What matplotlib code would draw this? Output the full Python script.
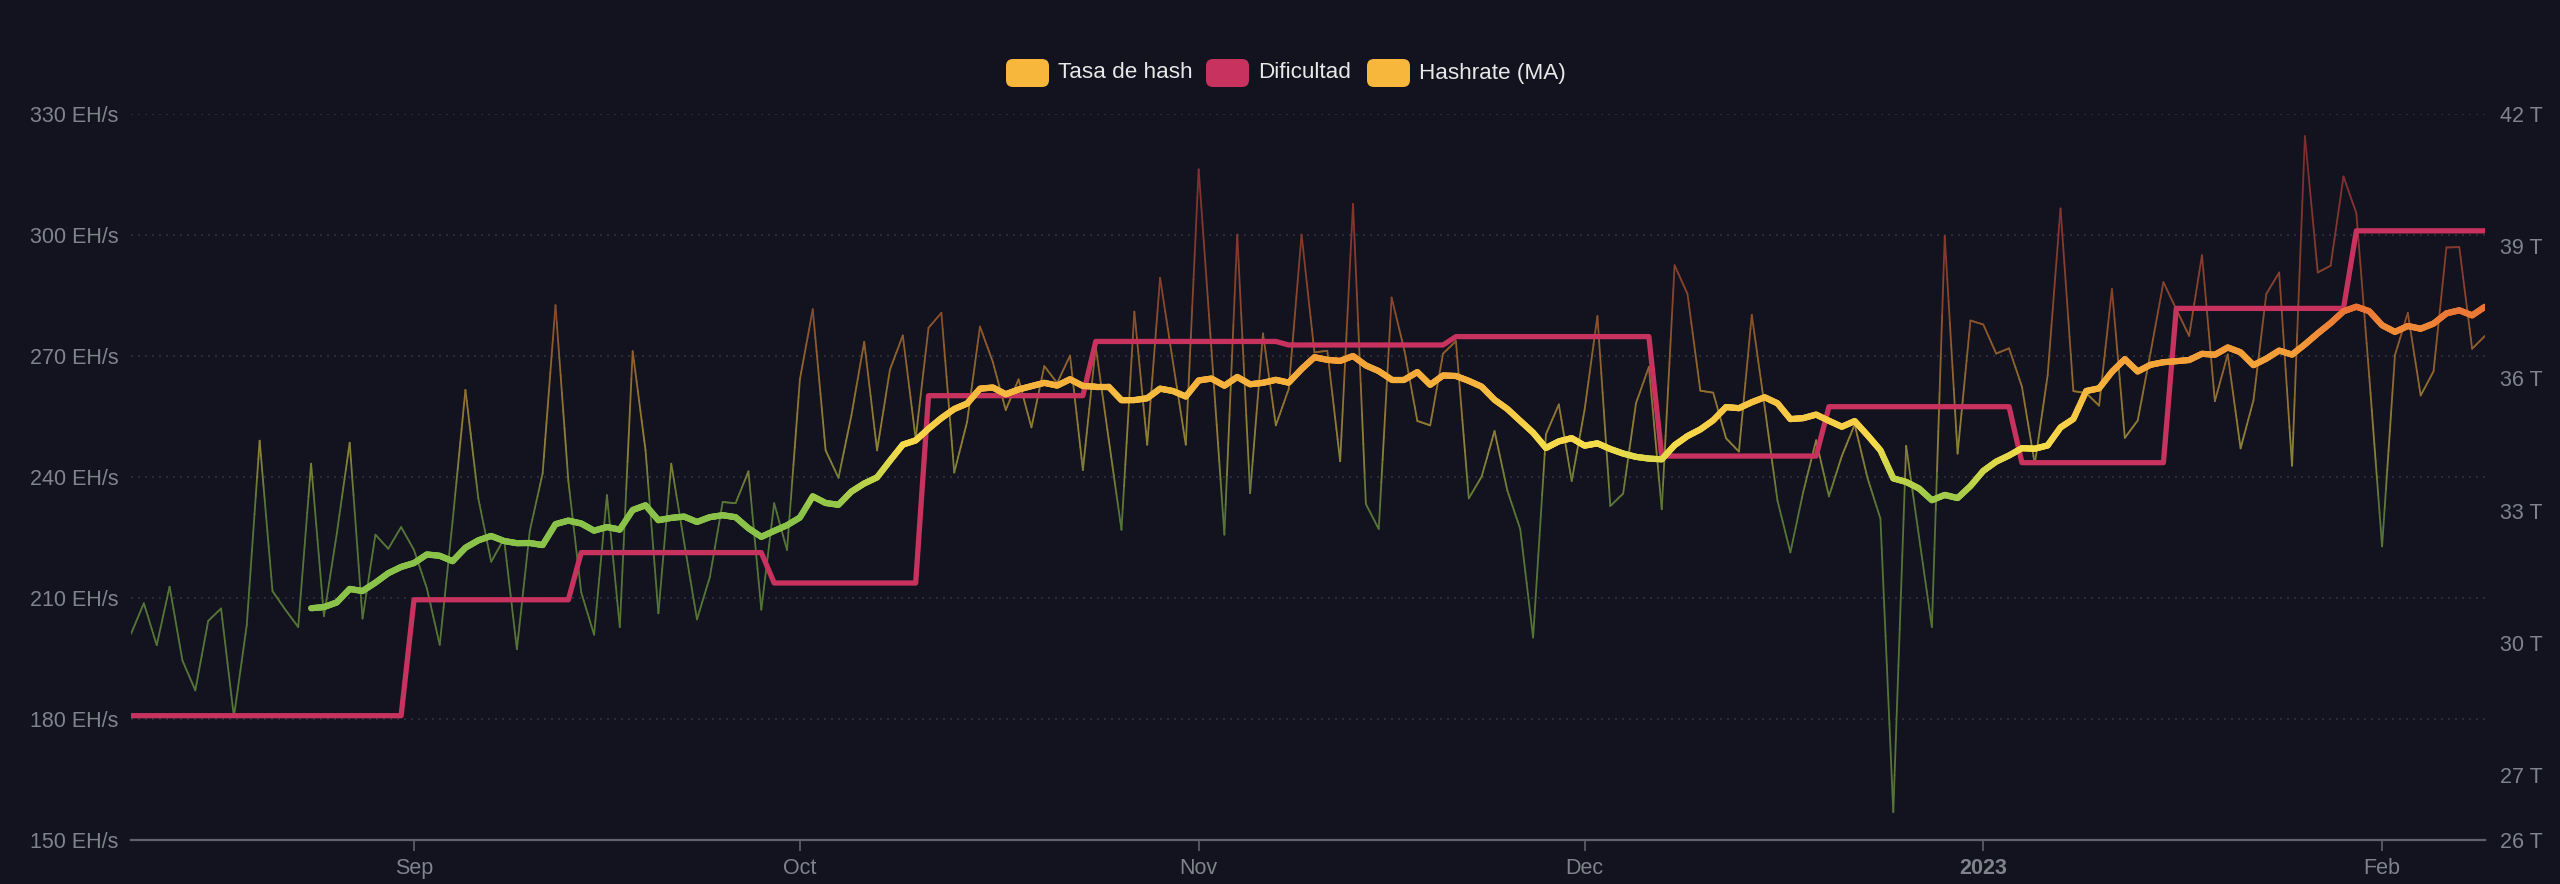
import numpy as np
import pandas as pd
import matplotlib
matplotlib.use("Agg")
import matplotlib.pyplot as plt
import matplotlib.dates as mdates
from matplotlib.collections import LineCollection
from matplotlib.colors import LinearSegmentedColormap, Normalize, to_rgb
from matplotlib.patches import FancyBboxPatch
from matplotlib.transforms import IdentityTransform

plt.rcParams['font.family'] = ['Liberation Sans', 'DejaVu Sans']

# daily hashrate (EH/s), starting 2022-08-10
start_date = '2022-08-10'
hashrate = [
    201.1, 208.7, 198.3, 212.8, 194.5, 187.1, 204.3, 207.4, 180.5, 203.3,
    249.0, 211.7, 207.1, 202.8, 243.3, 205.5, 226.0, 248.5, 204.9, 225.7,
    222.2, 227.6, 221.9, 212.4, 198.4, 229.0, 261.6, 234.7, 219.0, 224.7,
    197.3, 226.6, 240.9, 282.6, 239.0, 211.4, 200.9, 235.5, 202.8, 271.2,
    246.6, 206.2, 243.3, 223.8, 204.7, 215.2, 233.8, 233.5, 241.4, 207.1,
    233.5, 221.9, 264.2, 281.6, 246.6, 239.8, 255.2, 273.5, 246.6, 266.6,
    275.1, 249.5, 277.0, 280.7, 241.1, 253.7, 277.3, 268.5, 256.6, 264.2,
    252.3, 267.5, 263.3, 270.1, 241.7, 272.3, 249.5, 226.9, 281.0, 248.0,
    289.4, 268.5, 248.0, 316.3, 271.3, 225.7, 300.1, 236.0, 275.6, 252.8,
    261.8, 300.1, 270.9, 271.3, 243.9, 307.7, 233.3, 227.1, 284.5, 271.3,
    253.9, 252.8, 270.6, 273.7, 234.7, 240.1, 251.4, 236.6, 227.1, 200.2,
    250.6, 258.0, 239.0, 256.6, 279.9, 232.8, 235.9, 258.3, 267.3, 232.0,
    292.5, 285.4, 261.4, 260.9, 249.6, 246.3, 280.2, 257.4, 234.1, 221.3,
    236.3, 249.1, 235.2, 245.2, 253.0, 239.7, 229.7, 156.9, 247.7, 225.2,
    202.8, 299.7, 245.8, 278.8, 277.8, 270.6, 271.9, 262.4, 243.2, 265.2,
    306.6, 261.3, 260.8, 257.7, 286.6, 249.7, 254.0, 270.8, 288.3, 281.6,
    275.0, 295.0, 258.8, 270.4, 247.1, 259.0, 285.4, 290.7, 242.8, 324.5,
    290.7, 292.4, 314.5, 305.4, 265.0, 222.8, 270.2, 280.7, 260.2, 266.2,
    296.9, 297.0, 271.8, 275.0,
]

# difficulty adjustments (first day with new value), in T
diff_dates = ['2022-08-10', '2022-09-01', '2022-09-14', '2022-09-29', '2022-10-11',
              '2022-10-24', '2022-11-08', '2022-11-21', '2022-12-07', '2022-12-20',
              '2023-01-04', '2023-01-16', '2023-01-30']
diff_values = [28.35, 30.98, 32.05, 31.36, 35.61, 36.84, 36.76, 36.95, 34.24,
               35.36, 34.09, 37.59, 39.35]

ma_window = 15

left_ticks = [150, 180, 210, 240, 270, 300, 330]
right_ticks = [25.53, 27, 30, 33, 36, 39, 42]
right_labels = ['26 T', '27 T', '30 T', '33 T', '36 T', '39 T', '42 T']
month_ticks = ['2022-09-01', '2022-10-01', '2022-11-01', '2022-12-01', '2023-01-01', '2023-02-01']
month_labels = ['Sep', 'Oct', 'Nov', 'Dec', '2023', 'Feb']

legend_names = ['Tasa de hash', 'Dificultad', 'Hashrate (MA)']

# build series
dates = pd.date_range(start_date, periods=len(hashrate), freq='D')
hr = pd.Series(hashrate, index=dates)
ma = hr.rolling(ma_window).mean().dropna()
diff = pd.Series(diff_values, index=pd.to_datetime(diff_dates)).reindex(dates, method='ffill')

BG = '#12131f'
GRID = '#30323c'
TXT = '#80828c'
PINK = '#c8325f'
SWATCH = '#f6b73c'

cmap = LinearSegmentedColormap.from_list('hr', [
    (0.0, '#8bc34a'),
    ((232 - 150) / 180, '#8bc34a'),
    ((240 - 150) / 180, '#c5d54a'),
    ((248 - 150) / 180, '#f6dc4b'),
    ((258 - 150) / 180, '#f7c443'),
    ((266 - 150) / 180, '#f5aa3a'),
    ((275 - 150) / 180, '#f19238'),
    ((283 - 150) / 180, '#ea7035'),
    ((300 - 150) / 180, '#e0553a'),
    (1.0, '#d63a3f'),
])
norm = Normalize(150, 330)


def gradient_line(ax, x, y, lw, alpha, zorder, steps=10):
    # colour each piece of the line by its height (like a vertical gradient)
    x = np.asarray(x, float)
    y = np.asarray(y, float)
    t = np.linspace(0, 1, steps + 1)
    px = (x[:-1, None] + (x[1:] - x[:-1])[:, None] * t).ravel()
    py = (y[:-1, None] + (y[1:] - y[:-1])[:, None] * t).ravel()
    pts = np.column_stack([px, py])
    segs = np.stack([pts[:-1], pts[1:]], axis=1)
    mid = (py[:-1] + py[1:]) / 2
    cols = cmap(norm(mid))[:, :3]
    bg = np.array(to_rgb(BG))
    cols = cols * alpha + bg * (1 - alpha)
    lc = LineCollection(segs, colors=cols, linewidths=lw, zorder=zorder,
                        capstyle='round', joinstyle='round')
    ax.add_collection(lc)
    return lc


fig = plt.figure(figsize=(25.6, 8.84), dpi=100, facecolor=BG)
ax = fig.add_axes([131 / 2560, 1 - 840 / 884, (2485 - 131) / 2560, (840 - 114) / 884])
ax.set_facecolor(BG)
ax2 = ax.twinx()
ax3 = ax.twinx()
ax.set_zorder(1)
ax2.set_zorder(2)
ax3.set_zorder(3)
ax2.patch.set_visible(False)
ax3.patch.set_visible(False)

xnum = mdates.date2num(dates)

# daily hashrate
gradient_line(ax, xnum, hr.values, lw=1.3, alpha=0.55, zorder=2)

# difficulty
ax2.plot(dates, diff.values, color=PINK, lw=3.8, solid_joinstyle='round', zorder=3)

# moving average
gradient_line(ax3, mdates.date2num(ma.index), ma.values, lw=4.5, alpha=1.0, zorder=4)

for a in (ax, ax3):
    a.set_ylim(150, 330)
ax2.set_ylim(right_ticks[0], 42)
for a in (ax, ax2, ax3):
    a.set_xlim(xnum[0], xnum[-1])
    for s in a.spines.values():
        s.set_visible(False)

ax.spines['bottom'].set_visible(True)
ax.spines['bottom'].set_color('#5f616b')
ax.spines['bottom'].set_linewidth(1.6)

ax.set_yticks(left_ticks)
ax.set_yticklabels([f'{v} EH/s' for v in left_ticks])
ax.tick_params(axis='y', length=0, pad=9, labelsize=15.5, labelcolor=TXT)
ax.yaxis.grid(True, linestyle=(0, (1.2, 3)), color=GRID, lw=1.2)
ax.set_axisbelow(True)

ax2.set_yticks(right_ticks)
ax2.set_yticklabels(right_labels)
ax2.tick_params(axis='y', length=0, pad=11, labelsize=15.5, labelcolor=TXT)

ax3.set_yticks([])
ax3.set_xticks([])
ax2.set_xticks([])

ax.set_xticks(mdates.date2num(pd.to_datetime(month_ticks)))
ax.set_xticklabels(month_labels)
ax.tick_params(axis='x', length=8, width=1.2, color='#5f616b', pad=5,
               labelsize=15.5, labelcolor=TXT)
ax.get_xticklabels()[4].set_fontweight('bold')

# legend at the top
items = [(1006, SWATCH, legend_names[0]), (1206, PINK, legend_names[1]),
         (1367, SWATCH, legend_names[2])]
yc = 884 - 73
for x0, col, name in items:
    fig.add_artist(FancyBboxPatch((x0, yc - 14), 43, 28,
                                  boxstyle='round,pad=0,rounding_size=7',
                                  transform=IdentityTransform(),
                                  facecolor=col, edgecolor='none'))
    fig.text((x0 + 52) / 2560, yc / 884, name, color='#e8e8e8',
             fontsize=16.2, va='center', ha='left')

fig.savefig('out.png', dpi=100, facecolor=BG)
